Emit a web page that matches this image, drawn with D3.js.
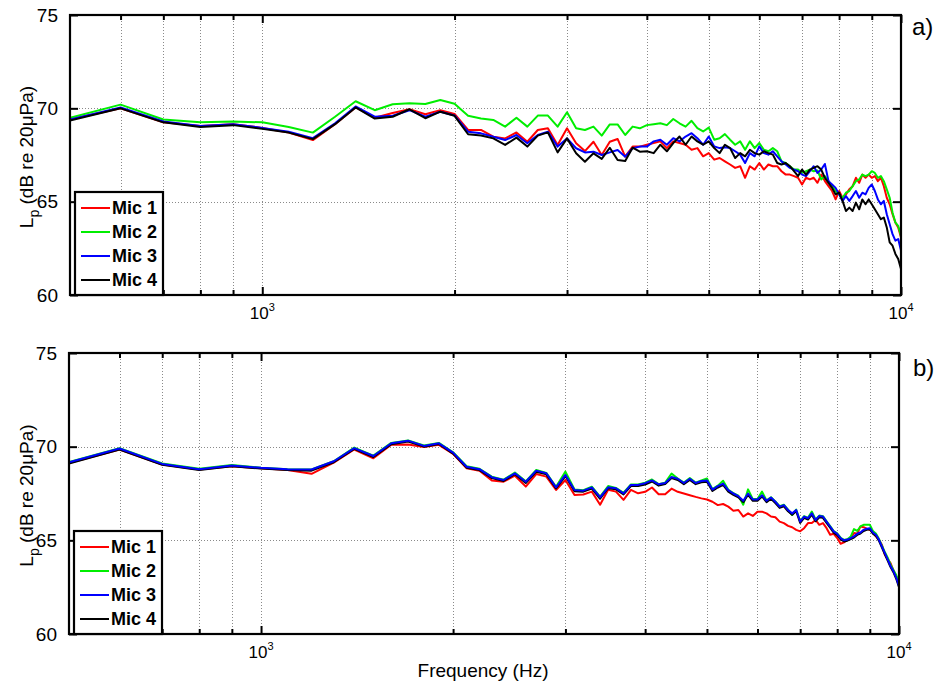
<!DOCTYPE html>
<html><head><meta charset="utf-8">
<script src="https://cdn.jsdelivr.net/npm/d3@7"></script>
<style>
body{margin:0;background:#fff}
text{font-family:Arial,"Liberation Sans",sans-serif;fill:#000}
</style>
</head><body>
<svg id="c" width="941" height="685"></svg>
<script>
// ---------- data ----------
const freqs = [500,600,700,800,900,
 1000,1100,1200,1300,1400,1500,1600,1700,1800,1900,
 2000,2100,2200,2300,2400,2500,2600,2700,2800,2900,
 3000,3100,3200,3300,3400,3500,3600,3700,3800,3900,
 4000,4100,4200,4300,4400,4500,4600,4700,4800,4900,
 5000,5100,5200,5300,5400,5500,5600,5700,5800,5900,
 6000,6100,6200,6300,6400,6500,6600,6700,6800,6900,
 7000,7100,7200,7300,7400,7500,7600,7700,7800,7900,
 8000,8100,8200,8300,8400,8500,8600,8700,8800,8900,
 9000,9100,9200,9300,9400,9500,9600,9700,9800,9900,
 10000];

// panel a)
const topMic1 = [69.4,70.0,69.25,69.05,69.15,
 68.95,68.7,68.3,69.15,70.05,69.5,69.75,69.95,69.68,69.9,
 69.7,68.84,68.84,68.48,68.39,68.71,68.21,68.84,68.93,68.04,
 68.93,68.13,67.71,68.21,67.5,68.21,68.36,67.41,67.95,67.95,
 68.05,68.14,68.23,67.87,68.23,68.14,68.05,67.78,67.87,67.43,
 67.6,67.25,67.34,67.16,66.99,66.81,66.9,66.28,66.9,66.72,
 67.07,66.72,66.99,66.9,66.9,66.63,66.45,66.45,66.37,66.28,
 65.92,66.28,66.19,66.28,66.01,66.45,66.1,65.83,65.57,65.12,
 65.57,65.21,65.39,65.66,65.83,66.28,66.01,66.45,66.28,66.45,
 66.28,66.37,66.1,66.28,65.83,65.21,64.86,64.33,63.88,63.62,
 63.08];
const topMic2 = [69.5,70.2,69.4,69.25,69.3,
 69.25,69.0,68.7,69.55,70.38,69.9,70.22,70.27,70.23,70.45,
 70.25,69.6,69.46,69.38,69.02,69.5,69.02,69.61,69.61,69.02,
 69.79,68.93,68.84,69.02,68.54,69.14,69.14,68.57,69.02,68.93,
 69.1,69.15,69.2,69.1,69.43,69.2,69.02,69.33,68.94,68.76,
 68.97,68.32,68.4,68.62,68.32,68.05,68.23,67.78,68.23,67.87,
 68.14,67.78,67.7,67.87,67.7,67.16,67.07,66.9,66.72,66.72,
 66.54,66.63,66.72,66.63,66.67,66.19,66.37,66.1,65.83,65.57,
 65.39,65.21,65.48,65.57,65.83,66.1,66.19,66.45,66.37,66.45,
 66.63,66.54,66.28,66.37,66.1,65.66,65.21,64.41,63.88,63.7,
 63.17];
const topMic3 = [69.4,70.05,69.3,69.05,69.15,
 68.95,68.75,68.4,69.2,70.1,69.55,69.6,69.9,69.55,69.82,
 69.62,68.75,68.66,68.48,68.3,68.57,68.13,68.57,68.75,67.95,
 68.39,67.86,67.64,67.68,67.5,67.64,67.77,67.41,67.86,67.95,
 67.95,68.23,68.32,68.05,68.4,68.23,68.49,68.67,68.4,68.05,
 68.49,67.96,67.87,67.91,67.87,67.7,67.52,67.07,67.6,67.43,
 67.96,67.6,67.52,67.7,67.43,67.16,66.99,66.81,66.72,66.63,
 66.45,66.37,66.63,66.9,66.54,66.72,67.02,66.1,65.92,65.74,
 65.39,65.04,65.3,65.04,65.3,65.57,65.21,65.48,65.39,65.74,
 65.92,65.57,65.12,64.86,65.04,64.33,63.79,63.26,62.91,63.0,
 62.38];
const topMic4 = [69.35,70.0,69.25,69.0,69.1,
 68.9,68.7,68.35,69.15,70.05,69.45,69.55,69.95,69.47,69.82,
 69.6,68.61,68.54,68.39,68.04,68.43,67.95,68.54,68.71,67.64,
 68.39,67.59,67.14,67.59,67.29,67.89,67.23,67.18,67.89,67.68,
 67.7,67.6,68.05,67.7,68.14,68.49,68.05,68.49,68.23,68.05,
 68.23,67.87,67.6,68.05,67.87,67.34,67.6,67.43,67.78,67.6,
 67.52,67.7,67.6,67.52,67.07,66.99,67.07,66.9,66.63,66.37,
 66.72,66.45,66.72,66.81,66.9,66.72,66.28,66.01,65.74,65.39,
 65.48,65.04,64.5,64.68,64.5,64.95,64.59,65.12,64.86,65.12,
 64.86,64.59,64.33,64.06,64.15,63.62,62.82,62.64,62.2,61.93,
 61.4];

// panel b)
const botMic1 = [69.12,69.85,69.05,68.78,68.95,
 68.85,68.75,68.55,69.15,69.85,69.38,70.1,70.12,69.98,70.1,
 69.62,68.85,68.72,68.2,68.13,68.45,67.87,68.54,68.4,67.69,
 68.22,67.42,67.45,67.6,66.9,67.7,67.6,67.16,67.69,67.51,
 67.59,67.82,67.46,67.46,67.76,67.59,67.5,67.41,67.32,67.24,
 67.18,67.06,66.88,66.94,66.8,66.58,66.62,66.27,66.44,66.3,
 66.53,66.53,66.44,66.27,66.23,66.0,65.92,65.77,65.7,65.56,
 65.48,65.65,65.92,65.92,66.09,65.83,65.92,65.65,65.3,65.35,
 65.12,64.82,64.89,65.04,65.12,65.39,65.35,65.74,65.7,65.62,
 65.56,65.47,65.21,65.04,64.77,64.24,63.98,63.78,63.4,63.05,
 62.6];
const botMic2 = [69.18,69.92,69.1,68.82,69.02,
 68.88,68.8,68.78,69.22,69.95,69.52,70.2,70.33,70.06,70.2,
 69.7,68.96,68.82,68.4,68.24,68.62,68.15,68.76,68.6,67.86,
 68.67,67.72,67.68,67.86,67.33,67.9,67.8,67.54,67.98,67.98,
 68.08,68.25,68.0,68.08,68.56,68.3,68.08,68.32,68.08,68.2,
 68.3,67.73,67.92,68.18,67.7,67.52,67.38,66.9,67.72,67.2,
 67.2,67.6,67.13,67.3,67.08,66.82,66.9,66.64,66.35,66.64,
 66.02,66.29,66.2,66.54,66.11,66.32,66.29,66.02,65.76,65.5,
 65.37,65.14,65.02,65.06,65.2,65.6,65.5,65.74,65.83,65.83,
 65.83,65.5,65.36,65.08,64.72,64.38,64.07,63.7,63.42,63.15,
 62.75];
const botMic3 = [69.17,69.9,69.08,68.8,69.0,
 68.87,68.8,68.78,69.22,69.92,69.5,70.18,70.32,70.04,70.18,
 69.68,68.93,68.8,68.37,68.22,68.58,68.13,68.72,68.58,67.83,
 68.49,67.69,67.65,67.83,67.3,67.83,67.78,67.51,67.96,67.96,
 68.05,68.2,67.99,68.06,68.38,68.29,68.06,68.29,68.06,68.17,
 68.2,67.71,67.89,68.03,67.68,67.5,67.36,67.11,67.5,67.18,
 67.18,67.41,67.11,67.29,67.06,66.8,66.88,66.62,66.44,66.62,
 66.0,66.27,66.18,66.44,66.09,66.3,66.27,66.0,65.74,65.48,
 65.35,65.12,65.0,65.04,65.12,65.21,65.35,65.42,65.56,65.62,
 65.65,65.42,65.3,65.04,64.68,64.33,63.98,63.63,63.36,63.01,
 62.57];
const botMic4 = [69.1,69.85,69.03,68.76,68.96,
 68.83,68.76,68.72,69.17,69.88,69.45,70.13,70.27,70.0,70.14,
 69.63,68.88,68.75,68.32,68.17,68.53,68.06,68.66,68.52,67.77,
 68.43,67.62,67.6,67.76,67.22,67.78,67.72,67.45,67.9,67.9,
 67.98,68.14,67.92,68.0,68.32,68.22,68.0,68.22,68.0,68.1,
 68.13,67.64,67.82,67.96,67.6,67.43,67.3,67.04,67.43,67.11,
 67.11,67.34,67.04,67.22,66.99,66.73,66.81,66.55,66.37,66.55,
 65.93,66.2,66.11,66.37,66.02,66.23,66.2,65.93,65.67,65.41,
 65.28,65.05,64.94,64.98,65.06,65.15,65.29,65.36,65.5,65.56,
 65.59,65.36,65.24,64.98,64.62,64.27,63.92,63.57,63.3,62.95,
 62.5];

const micNames = ["Mic 1","Mic 2","Mic 3","Mic 4"];
const micColors = ["#ff0000","#00ee00","#0000ff","#000000"];
const yTicks = [60,65,70,75];
const xMinor = [600,700,800,900,2000,3000,4000,5000,6000,7000,8000,9000];
const xMajor = [1000,10000];
const xMajorExp = ["3","4"];
const panelLabels = ["a)","b)"];
const xTitle = "Frequency (Hz)";

// ---------- drawing ----------
const svg = d3.select("#c");
svg.append("rect").attr("width",941).attr("height",685).attr("fill","#fff");

const panels = [
  {series:[topMic1,topMic2,topMic3,topMic4], order:[0,1,2,3], l:70, r:901, t:15, b:295, lab:panelLabels[0], lx:912, ly:35},
  {series:[botMic1,botMic2,botMic3,botMic4], order:[0,1,3,2], l:69, r:899, t:353, b:634, lab:panelLabels[1], lx:913, ly:376}
];

panels.forEach((p, pi) => {
  const x = d3.scaleLog().domain([500,10000]).range([p.l,p.r]);
  const y = d3.scaleLinear().domain([60,75]).range([p.b,p.t]);
  const g = svg.append("g");
  const clipId = "clip"+pi;
  g.append("clipPath").attr("id",clipId).append("rect")
    .attr("x",p.l).attr("y",p.t).attr("width",p.r-p.l).attr("height",p.b-p.t);

  // grid
  const grid = g.append("g").attr("stroke","#8a8a8a").attr("stroke-width",1).attr("stroke-dasharray","1,2");
  xMinor.concat([1000]).forEach(f => {
    grid.append("line").attr("x1",Math.round(x(f))+0.5).attr("x2",Math.round(x(f))+0.5)
      .attr("y1",p.t).attr("y2",p.b);
  });
  [65,70].forEach(v => {
    grid.append("line").attr("x1",p.l).attr("x2",p.r)
      .attr("y1",Math.round(y(v))+0.5).attr("y2",Math.round(y(v))+0.5);
  });

  // lines
  const line = d3.line().x((d,i)=>x(freqs[i])).y(d=>y(d));
  const lg = g.append("g").attr("clip-path",`url(#${clipId})`);
  p.order.forEach(k => {
    lg.append("path").datum(p.series[k]).attr("d",line)
      .attr("fill","none").attr("stroke",micColors[k]).attr("stroke-width",2)
      .attr("stroke-linejoin","round");
  });

  // ticks (inward) via axes
  const fmtNone = () => "";
  g.append("g").attr("transform",`translate(0,${p.b})`)
    .call(d3.axisBottom(x).tickValues(xMinor).tickSize(-5).tickFormat(fmtNone));
  g.append("g").attr("transform",`translate(0,${p.b})`)
    .call(d3.axisBottom(x).tickValues(xMajor).tickSize(-8).tickFormat(fmtNone));
  g.append("g").attr("transform",`translate(0,${p.t})`)
    .call(d3.axisTop(x).tickValues(xMinor).tickSize(-5).tickFormat(fmtNone));
  g.append("g").attr("transform",`translate(0,${p.t})`)
    .call(d3.axisTop(x).tickValues(xMajor).tickSize(-8).tickFormat(fmtNone));
  const yl = g.append("g").attr("transform",`translate(${p.l},0)`)
    .call(d3.axisLeft(y).tickValues(yTicks).tickSize(-8).tickPadding(12).tickFormat(d3.format("d")));
  g.append("g").attr("transform",`translate(${p.r},0)`)
    .call(d3.axisRight(y).tickValues(yTicks).tickSize(-8).tickFormat(fmtNone));
  g.selectAll(".domain").remove();
  g.selectAll(".tick line").attr("stroke","#000").attr("stroke-width",2);
  yl.selectAll("text").attr("font-size",19).attr("font-family","Arial, 'Liberation Sans', sans-serif").attr("fill","#000");

  // axes box
  g.append("rect").attr("x",p.l).attr("y",p.t).attr("width",p.r-p.l).attr("height",p.b-p.t)
    .attr("fill","none").attr("stroke","#000").attr("stroke-width",2.2);

  // x major labels 10^3, 10^4
  xMajor.forEach((f,i) => {
    const t = g.append("text").attr("x",x(f)).attr("y",p.b+24).attr("text-anchor","middle").attr("font-size",17);
    t.append("tspan").text("10");
    t.append("tspan").text(xMajorExp[i]).attr("font-size",11).attr("dy",-8);
  });

  // y label
  const yt = g.append("text").attr("transform",`translate(33,${(p.t+p.b)/2+2}) rotate(-90)`)
    .attr("text-anchor","middle").attr("font-size",19);
  yt.append("tspan").text("L");
  yt.append("tspan").text("p").attr("font-size",14).attr("dy",6);
  yt.append("tspan").text(" (dB re 20\u03BCPa)").attr("dy",-6);

  // panel label
  g.append("text").attr("x",p.lx).attr("y",p.ly).attr("font-size",24).text(p.lab);

  // legend
  const bx = p.l+5, bw = 88, bh = 103, by = p.b-bh;
  const leg = g.append("g");
  leg.append("rect").attr("x",bx).attr("y",by).attr("width",bw).attr("height",bh)
    .attr("fill","#fff").attr("stroke","#000").attr("stroke-width",2.2);
  micNames.forEach((nm,i) => {
    const yy = by+16+i*24;
    leg.append("line").attr("x1",bx+6).attr("x2",bx+35).attr("y1",yy).attr("y2",yy)
      .attr("stroke",micColors[i]).attr("stroke-width",2);
    leg.append("text").attr("x",bx+37).attr("y",yy).attr("dy","0.36em")
      .attr("font-size",18).attr("font-weight","bold").text(nm);
  });
});

svg.append("text").attr("x",483).attr("y",677).attr("text-anchor","middle")
  .attr("font-size",19).text(xTitle);
</script>
</body></html>
